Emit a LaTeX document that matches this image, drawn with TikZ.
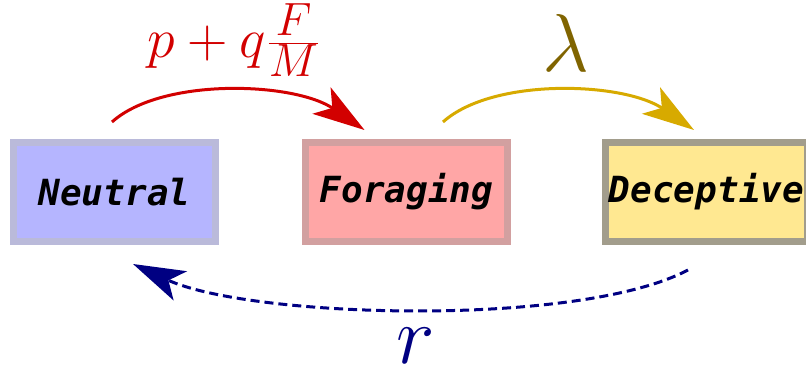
\documentclass[tikz,border=0pt]{standalone}
\usepackage{fontspec}
\setmonofont{DejaVu Sans Mono}[
  ItalicFont={DejaVu Sans Mono Oblique},
  BoldFont={DejaVu Sans Mono Bold},
  BoldItalicFont={DejaVu Sans Mono Bold Oblique}]
\usetikzlibrary{arrows.meta,positioning}
\definecolor{neutralfill}{RGB}{181,181,255}
\definecolor{neutralline}{RGB}{186,186,218}
\definecolor{foragefill}{RGB}{255,166,166}
\definecolor{forageline}{RGB}{210,160,160}
\definecolor{decepfill}{RGB}{255,232,145}
\definecolor{decepline}{RGB}{162,157,140}
\definecolor{flowred}{RGB}{210,0,0}
\definecolor{flowyellow}{RGB}{215,170,0}
\definecolor{lambdacol}{RGB}{128,100,0}
\definecolor{flowblue}{RGB}{0,0,130}
\tikzset{
  state/.style={line width=7pt, minimum width=202pt, minimum height=99pt,
    font=\fontsize{36}{36}\ttfamily\bfseries\itshape},
  flow/.style={-{Stealth[length=52pt,width=32pt,inset=13pt]}, line width=3pt},
  rate/.style={font=\Huge, scale=2.25, inner sep=0pt},
  bigrate/.style={font=\Huge, scale=3.3, inner sep=0pt}
}

\begin{document}
\begin{tikzpicture}[x=1pt, y=1pt]
\useasboundingbox (0,0) rectangle (806,373);

% states
\node[state, draw=neutralline, fill=neutralfill] (neutral) at (114.5,181) {Neutral};
\node[state, draw=forageline, fill=foragefill, right=83pt of neutral] (foraging) {Foraging};
\node[state, draw=decepline, fill=decepfill, right=91pt of foraging] (deceptive) {Deceptive};

% transitions
\draw[flow, flowred] ([xshift=-2.5pt,yshift=17pt]neutral.north) .. controls +(50,45) and +(-70,48) .. ([xshift=-42pt,yshift=9pt]foraging.north);
\draw[flow, flowyellow] ([xshift=36.5pt,yshift=17pt]foraging.north) .. controls +(50,45) and +(-70,48) .. ([xshift=-12.5pt,yshift=9pt]deceptive.north);
\draw[flow, flowblue, dash pattern=on 9pt off 5pt] ([xshift=-18.5pt,yshift=-25pt]deceptive.south) .. controls +(-110,-58) and +(117,-54) .. ([xshift=18.5pt,yshift=-19pt]neutral.south);

% rates
\node[rate, text=flowred] (gain) at (234,333) {$p+q\frac{F}{M}$};
\node[bigrate, text=lambdacol] (lam) at (566,330) {$\lambda$};
\node[bigrate, text=flowblue] (ret) at (416,27) {$r$};

\end{tikzpicture}
\end{document}
